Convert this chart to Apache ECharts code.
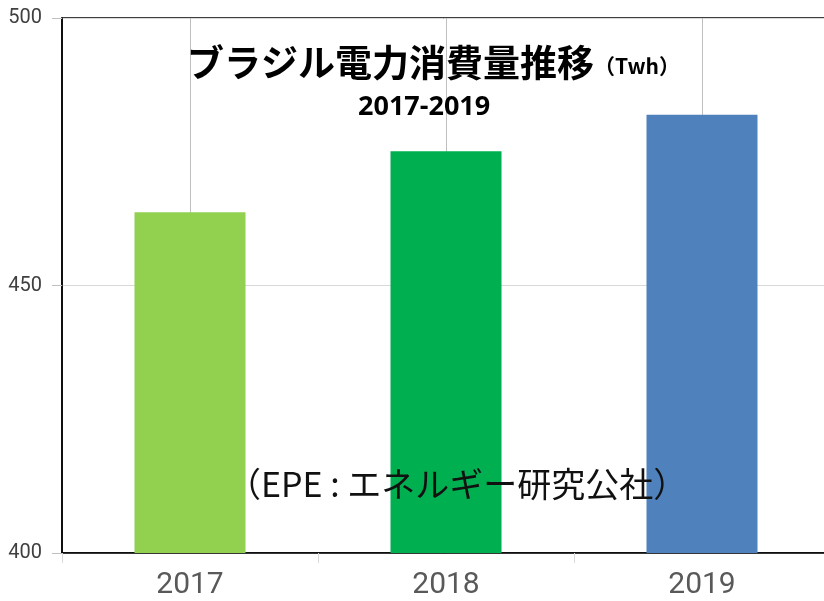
<!DOCTYPE html>
<html>
<head>
<meta charset="utf-8">
<script src="https://cdn.jsdelivr.net/npm/echarts@6/dist/echarts.min.js"></script>
<style>
html, body { margin: 0; padding: 0; background: #fff; }
#main { width: 824px; height: 601px; }
</style>
</head>
<body>
<div id="main"></div>
<script>
// データ
var years = ['2017', '2018', '2019'];
var consumption = [463.7, 475.1, 481.9];
var barColors = ['#92D050', '#00B050', '#4F81BD'];
var yTicks = [400, 450, 500];

var chart = echarts.init(document.getElementById('main'));

var jp = '"Noto Sans CJK JP", sans-serif';

var option = {
    backgroundColor: '#fff',
    animation: false,
    title: [{
        text: '{a|ブラジル電力消費量推移}{b|（Twh）}',
        left: 182,
        top: 39,
        textStyle: {
            rich: {
                a: { fontFamily: jp, fontSize: 37, fontWeight: 'bold', color: '#000' },
                b: { fontFamily: jp, fontSize: 21, color: '#000', padding: [8, 0, 0, 0] }
            }
        }
    }, {
        text: '2017-2019',
        left: 353,
        top: 89,
        textStyle: { fontFamily: '"Open Sans", sans-serif', fontSize: 27, fontWeight: 'bold', color: '#000' }
    }, {
        text: '（EPE : エネルギー研究公社）',
        left: 222,
        top: 462,
        textStyle: { fontFamily: jp, fontSize: 34, fontWeight: 'normal', color: '#111' }
    }],
    grid: {
        left: 62,
        top: 18,
        width: 768,
        bottom: 48,
        outerBoundsMode: 'none',
        show: true,
        borderColor: '#000',
        borderWidth: 1.5
    },
    xAxis: {
        type: 'category',
        data: years,
        axisLine: { lineStyle: { color: '#000', width: 1.5 } },
        axisTick: { show: true, length: 10, lineStyle: { color: '#d9d9d9' } },
        axisLabel: {
            margin: 17,
            fontSize: 30,
            color: '#595959',
            fontFamily: 'Roboto, sans-serif'
        },
        splitLine: { show: false }
    },
    yAxis: {
        type: 'value',
        min: yTicks[0],
        max: yTicks[yTicks.length - 1],
        interval: yTicks[1] - yTicks[0],
        axisLine: { show: true, lineStyle: { color: '#000', width: 1.5 } },
        axisTick: { show: true, length: 10, lineStyle: { color: '#bfbfbf' } },
        axisLabel: {
            margin: 20,
            fontSize: 20,
            color: '#404040',
            fontFamily: 'Roboto, sans-serif'
        },
        splitLine: { lineStyle: { color: '#d9d9d9', width: 1 } }
    },
    series: [{
        type: 'bar',
        barWidth: 111,
        data: consumption.map(function (v, i) {
            return { value: v, itemStyle: { color: barColors[i] } };
        }),
        markLine: {
            z: 1,
            silent: true,
            symbol: 'none',
            label: { show: false },
            lineStyle: { color: '#bfbfbf', type: 'solid', width: 1 },
            data: years.map(function (y) { return { xAxis: y }; })
        }
    }]
};

chart.setOption(option);
</script>
</body>
</html>
